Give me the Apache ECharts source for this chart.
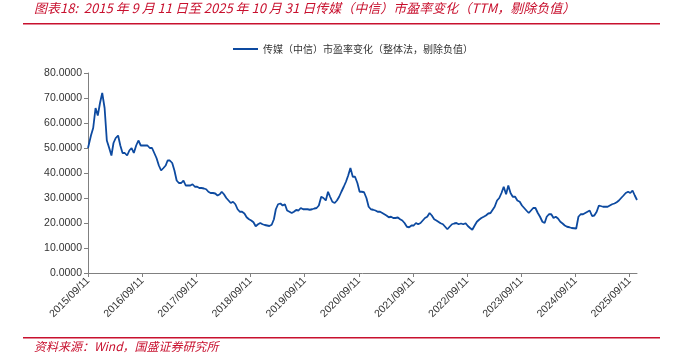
<!DOCTYPE html>
<html>
<head>
<meta charset="utf-8">
<script src="https://cdn.jsdelivr.net/npm/echarts@6/dist/echarts.min.js"></script>
<style>html,body{margin:0;padding:0;background:#fff;}#c{width:680px;height:357px;}</style>
</head>
<body>
<div id="c"></div>
<script>
const titleText = '图表18:  2015 年 9 月 11 日至 2025 年 10 月 31 日传媒（中信）市盈率变化（TTM，剔除负值）';
const sourceText = '资料来源：Wind，国盛证券研究所';
const seriesName = '传媒（中信）市盈率变化（整体法，剔除负值）';
const tickLabels = ['2015/09/11','2016/09/11','2017/09/11','2018/09/11','2019/09/11','2020/09/11','2021/09/11','2022/09/11','2023/09/11','2024/09/11','2025/09/11'];
const firstPoint = ['2015-09-11', 50];
const lastPoint = ['2025-10-31', 29.2];
// half-monthly readings (1st and 16th of each month), Oct 2015 .. Oct 2025
const peHalfMonthly = [
  55,58, 66,63, 68,72,                                   // 2015 Oct-Dec
  66,53, 50,47, 52,54, 55,51, 48,48, 47,49, 50,48, 51,53, 51,51, 51,51, 50,50, 48,46, // 2016
  43,41, 42,43, 45,45, 44,41, 37,36, 36,37, 35,35, 35,35.5, 34.5,34.5, 34,34, 33.8,33.5, 32.5,32, // 2017
  32,31.8, 31,31.5, 32.5,31.5, 30,29, 28,28.5, 27.5,25.5, 24.5,24.5, 23.8,22.3, 21.5,21, 20.3,18.7, 19.5,20, 19.5,19.2, // 2018
  19,18.8, 19.3,21.5, 25.5,27.5, 27.8,27, 27.5,25, 24.5,24, 24.5,25.2, 25,26, 25.5,25.5, 25.5,25.3, 25.5,25.8, 26,27, // 2019
  30.5,30, 29,32.5, 30.5,28.5, 28,29, 30.5,32.5, 34.5,36.5, 39,42, 38.5,38.5, 36,32.5, 32.5,32.3, 30,26.5, 25.5,25.3, // 2020
  25,24.5, 24.5,24, 23.8,23, 22.3,22.5, 22,22, 22.2,21.5, 21,20, 18.5,18.3, 19,19, 20,19.5, 20,21, 22,22.5, // 2021
  24,23, 21.5,21, 21,19.9, 19.5,18.5, 17.5,18.5, 19.5,19.8, 20,19.5, 19.8,19.5, 19.9,18.8, 18,17.3, 19,20.5, 21.3,22, // 2022
  22.5,23, 23.8,24, 24.5,26.5, 29,30, 32,34.5, 31.5,35, 32,30.5, 30.5,29, 28.5,27, 26,25, 24,25, 26,26, // 2023
  24,22.5, 20.5,20, 22.5,23.5, 23.5,22, 22.5,21.8, 20.5,19.8, 19,18.5, 18.3,18, 17.9,17.8, 22.5,23.5, 23.5,24, 24.5,25, // 2024
  22.8,23, 24.5,27, 26.5,26.5, 26.5,26.5, 27,27.5, 27.8,28.3, 29,30, 31,32, 32.5,32, 33,31 // 2025 Jan-Oct
];

function ts(s) { const p = s.split(/[-\/]/).map(Number); return new Date(p[0], p[1]-1, p[2]).getTime(); }
function pad(n) { return (n < 10 ? '0' : '') + n; }

const data = [[ts(firstPoint[0]), firstPoint[1]]];
let k = 0;
for (let y = 2015, m = 10; k < peHalfMonthly.length; ) {
  data.push([ts(y + '-' + pad(m) + '-01'), peHalfMonthly[k++]]);
  if (k < peHalfMonthly.length) data.push([ts(y + '-' + pad(m) + '-16'), peHalfMonthly[k++]]);
  m++; if (m > 12) { m = 1; y++; }
}
data.push([ts(lastPoint[0]), lastPoint[1]]);

const tickValues = tickLabels.map(ts);
const labelMap = {};
tickValues.forEach((v, i) => { labelMap[v] = tickLabels[i]; });

const red = '#c8102e';
const chart = echarts.init(document.getElementById('c'));
chart.setOption({
  animation: false,
  title: {
    text: titleText, left: 34, top: 2, padding: 0,
    textStyle: { color: red, fontStyle: 'italic', fontWeight: 'normal', fontSize: 13, fontFamily: 'Noto Sans CJK SC' }
  },
  legend: {
    left: 228, top: 39, itemWidth: 25, itemHeight: 2, icon: 'rect', itemGap: 5,
    textStyle: { fontSize: 10, color: '#333', fontFamily: 'Noto Sans CJK SC' },
    data: [seriesName]
  },
  grid: { left: 88, right: 43, top: 73, bottom: 84, containLabel: false },
  xAxis: {
    type: 'value', min: ts(firstPoint[0]), max: ts(lastPoint[0]), scale: true,
    axisLine: { show: true, lineStyle: { color: '#808080', width: 1 } },
    axisTick: { show: true, customValues: tickValues, length: 4, lineStyle: { color: '#808080' } },
    axisLabel: {
      customValues: tickValues, rotate: 45, fontSize: 10.5, color: '#333', margin: 6,
      fontFamily: 'Liberation Sans', formatter: v => labelMap[v] || ''
    },
    splitLine: { show: false }
  },
  yAxis: {
    type: 'value', min: 0, max: 80, interval: 10,
    axisLine: { show: true, lineStyle: { color: '#808080', width: 1 } },
    axisTick: { show: true, length: 4, lineStyle: { color: '#808080' } },
    axisLabel: { fontSize: 10.5, color: '#333', margin: 6, fontFamily: 'Liberation Sans', formatter: v => v.toFixed(4) },
    splitLine: { show: false }
  },
  series: [{
    name: seriesName, type: 'line', data: data, showSymbol: false, symbol: 'none',
    lineStyle: { color: '#0d4aa0', width: 1.8 }, itemStyle: { color: '#0d4aa0' }
  }],
  graphic: [
    { type: 'rect', shape: { x: 23, y: 23, width: 637, height: 1.6 }, style: { fill: red } },
    { type: 'rect', shape: { x: 23, y: 337, width: 637, height: 1.6 }, style: { fill: red } },
    { type: 'text', left: 34, top: 340, style: { text: sourceText, fill: red, font: 'italic 12px "Noto Sans CJK SC"' } }
  ]
});
</script>
</body>
</html>
